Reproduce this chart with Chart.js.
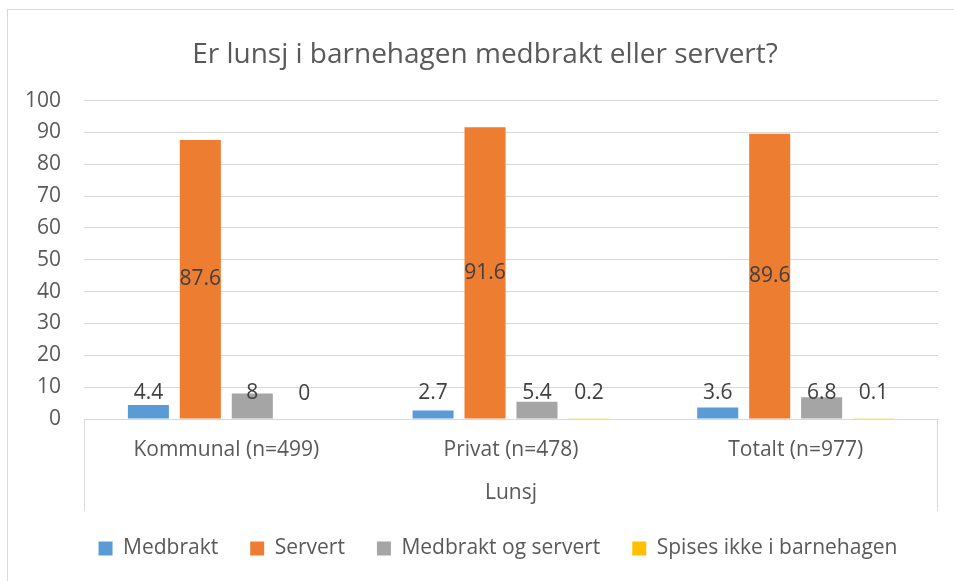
<!DOCTYPE html>
<html>
<head>
<meta charset="utf-8">
<script src="https://cdn.jsdelivr.net/npm/chart.js@4/dist/chart.umd.min.js"></script>
<style>
  html, body { margin: 0; padding: 0; background: #fff; }
  #wrap { width: 954px; height: 581px; }
</style>
</head>
<body>
<div id="wrap"><canvas id="lunsjChart" width="954" height="581"></canvas></div>
<script>
  // data
  const categories = ["Kommunal (n=499)", "Privat (n=478)", "Totalt (n=977)"];
  const medbrakt = [4.4, 2.7, 3.6];
  const servert = [87.6, 91.6, 89.6];
  const medbraktOgServert = [8, 5.4, 6.8];
  const spisesIkke = [0, 0.2, 0.1];
  const yTicks = [0, 10, 20, 30, 40, 50, 60, 70, 80, 90, 100];

  const FONT = "'Open Sans', 'Noto Sans', sans-serif";
  const TEXT = '#595959';
  const GRID = '#D9D9D9';

  // frame around the whole chart + outer lines of the category box
  const framePlugin = {
    id: 'frame',
    afterLayout(chart) {
      // the original chart is wider than the visible crop, so title and legend sit a bit right of centre
      chart.titleBlock.left += 12;
      chart.titleBlock.right += 12;
      chart.legend.left += 25;
      chart.legend.right += 25;
    },
    beforeDraw(chart) {
      const ctx = chart.ctx;
      ctx.save();
      ctx.strokeStyle = GRID;
      ctx.lineWidth = 1;
      ctx.strokeRect(7.5, 9.5, chart.width + 20, chart.height + 20);
      ctx.restore();
    },
    afterDraw(chart) {
      const ctx = chart.ctx;
      const a = chart.chartArea;
      const bottom = chart.scales.x.bottom + 5;
      ctx.save();
      ctx.strokeStyle = GRID;
      ctx.lineWidth = 1;
      ctx.beginPath();
      ctx.moveTo(Math.round(a.left) + 0.5, a.bottom);
      ctx.lineTo(Math.round(a.left) + 0.5, bottom);
      ctx.moveTo(Math.round(a.right) - 0.5, a.bottom);
      ctx.lineTo(Math.round(a.right) - 0.5, bottom);
      ctx.stroke();
      ctx.restore();
    }
  };

  // value labels: centred in tall bars, just above the base for short ones
  const labelPlugin = {
    id: 'valueLabels',
    afterDatasetsDraw(chart) {
      const ctx = chart.ctx;
      ctx.save();
      ctx.font = '21px ' + FONT;
      ctx.fillStyle = '#404040';
      ctx.textAlign = 'center';
      ctx.textBaseline = 'middle';
      chart.data.datasets.forEach((ds, i) => {
        chart.getDatasetMeta(i).data.forEach((bar, j) => {
          const mid = (bar.y + bar.base) / 2;
          const y = Math.min(mid, bar.base - 25);
          ctx.fillText(String(ds.data[j]), bar.x, y);
        });
      });
      ctx.restore();
    }
  };

  function bars(label, data, color) {
    return {
      label: label,
      data: data,
      backgroundColor: color,
      borderWidth: 0,
      categoryPercentage: 0.73,
      barPercentage: 0.79
    };
  }

  new Chart(document.getElementById('lunsjChart'), {
    type: 'bar',
    data: {
      labels: categories,
      datasets: [
        bars('Medbrakt', medbrakt, '#5B9BD5'),
        bars('Servert', servert, '#ED7D31'),
        bars('Medbrakt og servert', medbraktOgServert, '#A5A5A5'),
        bars('Spises ikke i barnehagen', spisesIkke, '#FFC000')
      ]
    },
    options: {
      responsive: false,
      animation: false,
      layout: { padding: { top: 10, left: 8, right: 16, bottom: 12 } },
      plugins: {
        title: {
          display: true,
          text: 'Er lunsj i barnehagen medbrakt eller servert?',
          color: TEXT,
          font: { family: FONT, size: 28, weight: 'normal' },
          padding: { top: 28, bottom: 29 }
        },
        legend: {
          position: 'bottom',
          labels: {
            color: TEXT,
            font: { family: FONT, size: 21 },
            boxWidth: 14,
            boxHeight: 14,
            padding: 32
          }
        },
        tooltip: { enabled: false }
      },
      scales: {
        y: {
          min: 0,
          max: 100,
          afterFit(s) { s.width = 76; },
          afterBuildTicks(s) { s.ticks = yTicks.map(v => ({ value: v })); },
          border: { display: false },
          grid: { color: GRID, drawTicks: false },
          ticks: { color: TEXT, padding: 23, font: { family: FONT, size: 21 } }
        },
        x: {
          afterFit(s) { s.height = 87; },
          border: { color: GRID },
          grid: { display: false, drawTicks: false },
          ticks: { color: TEXT, padding: 18, maxRotation: 0, font: { family: FONT, size: 21 } },
          title: {
            display: true,
            text: 'Lunsj',
            color: TEXT,
            font: { family: FONT, size: 21 },
            padding: { top: 19, bottom: 0 }
          }
        }
      }
    },
    plugins: [framePlugin, labelPlugin]
  });
</script>
</body>
</html>
